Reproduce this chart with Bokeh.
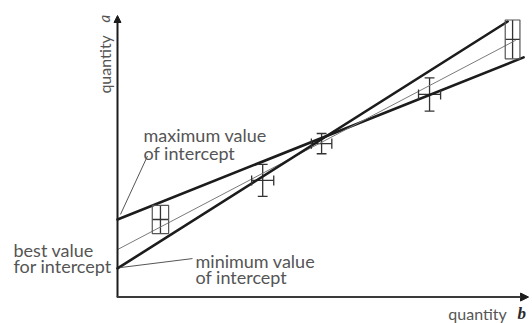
from bokeh.plotting import figure
from bokeh.models import Range1d, ColumnDataSource, Whisker, Arrow, NormalHead
from bokeh.core.properties import value
from bokeh.embed import file_html
from bokeh.resources import INLINE

# Measured points with their uncertainties
x_vals = [1.05, 3.55, 4.99, 7.63, 9.66]
y_vals = [2.74, 4.13, 5.44, 7.19, 9.15]
x_err = [0.20, 0.27, 0.25, 0.27, 0.18]
y_err = [0.50, 0.57, 0.36, 0.59, 0.69]
boxed = [True, False, False, False, True]

# Straight lines drawn through the points: shallowest, best and steepest
line_names = ["maximum", "best", "minimum"]
intercepts = [2.74, 1.67, 1.00]
slopes = [0.581, 0.765, 0.921]
end_x = [9.93, 9.73, 9.54]

INK = "#1c1c1c"
TEXT = "#555555"
FONT = "Lato"
CAP_X = 0.12   # half length of caps on vertical bars (x units)
CAP_Y = 0.18   # half length of caps on horizontal bars (y units)

p = figure(width=532, height=323, output_backend="svg", toolbar_location=None,
           x_range=Range1d(-2.861, 10.147), y_range=Range1d(-0.961, 10.534),
           min_border=0)
p.axis.visible = False
p.grid.visible = False
p.outline_line_color = None
p.background_fill_color = "white"

# axes with arrowheads
p.add_layout(Arrow(x_start=0, y_start=-0.02, x_end=0, y_end=10.0, line_width=2,
                   line_color=INK,
                   end=NormalHead(size=7, fill_color=INK, line_color=INK)))
p.add_layout(Arrow(x_start=-0.02, y_start=-0.02, x_end=10.05, y_end=-0.02, line_width=2,
                   line_color="#3a3a3a",
                   end=NormalHead(size=8, fill_color=INK, line_color=INK)))

# fitted lines
widths = {"maximum": 2.6, "best": 1.0, "minimum": 2.6}
colors = {"maximum": INK, "best": "#7a7a7a", "minimum": INK}
for name, c, m, xe in zip(line_names, intercepts, slopes, end_x):
    p.line([0, xe], [c, c + m * xe], line_width=widths[name],
           line_color=colors[name], line_cap="round")

# error bars
src = ColumnDataSource(dict(
    x=x_vals, y=y_vals,
    xl=[x - e for x, e in zip(x_vals, x_err)], xu=[x + e for x, e in zip(x_vals, x_err)],
    yl=[y - e for y, e in zip(y_vals, y_err)], yu=[y + e for y, e in zip(y_vals, y_err)],
))
bar_color = "#333333"
p.add_layout(Whisker(source=src, base="x", lower="yl", upper="yu", dimension="height",
                     line_color=bar_color, line_width=1.3,
                     lower_head=None, upper_head=None))
p.add_layout(Whisker(source=src, base="y", lower="xl", upper="xu", dimension="width",
                     line_color=bar_color, line_width=1.3,
                     lower_head=None, upper_head=None))

# caps on the plain error bars, boxes around the end points
cx0, cy0, cx1, cy1 = [], [], [], []
bx, by, bw, bh = [], [], [], []
for x, y, ex, ey, b in zip(x_vals, y_vals, x_err, y_err, boxed):
    if b:
        bx.append(x); by.append(y); bw.append(2 * ex); bh.append(2 * ey)
    else:
        for yy in (y - ey, y + ey):
            cx0.append(x - CAP_X); cx1.append(x + CAP_X); cy0.append(yy); cy1.append(yy)
        for xx in (x - ex, x + ex):
            cx0.append(xx); cx1.append(xx); cy0.append(y - CAP_Y); cy1.append(y + CAP_Y)
p.rect(bx, by, width=bw, height=bh, fill_color=None, line_color="#555555", line_width=1.2)
p.segment(cx0, cy0, cx1, cy1, line_color=bar_color, line_width=1.3)

# leader lines from the labels to the intercepts
p.line([0.733, 0.073], [5.0, 2.92], line_color="#555555", line_width=1)
p.line([1.834, 0.073], [1.35, 1.03], line_color="#555555", line_width=1)

def label(x, y, s, align="left", size="18px", style="normal", font=FONT, color=TEXT, angle=0):
    p.text([x], [y], text=[s], text_align=align, text_baseline="alphabetic",
           text_font=value(font), text_font_size=size, text_font_style=style,
           text_color=color, angle=angle)

label(0.636, 5.73, "maximum value")
label(0.636, 5.09, "of intercept")
label(-2.543, 1.64, "best value")
label(-2.543, 1.07, "for intercept")
label(1.907, 1.28, "minimum value")
label(1.907, 0.68, "of intercept")

label(9.52, -0.60, "quantity", align="right", size="16px")
label(9.78, -0.60, "b", size="17px", style="bold italic", font="Liberation Serif", color="#2a2a2a")

label(-0.33, 7.22, "quantity", angle=1.5708, size="16px")
label(-0.33, 9.75, "a", style="italic", angle=1.5708, size="15px")

open("out.html", "w").write(file_html(p, INLINE))
